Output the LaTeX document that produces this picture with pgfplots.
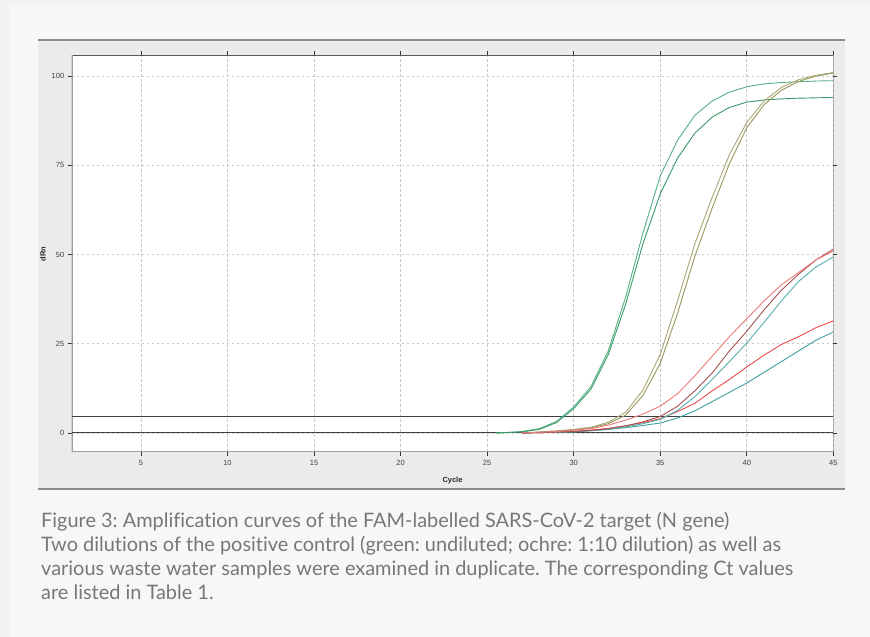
\documentclass[border=0pt]{standalone}
\usepackage{pgfplots}
\pgfplotsset{compat=1.18}
\usepackage{fontspec}
\setmainfont{Liberation Sans}
\newfontfamily\capfont[Ligatures=NoCommon]{Lato}

\definecolor{outerbg}{HTML}{F2F2F2}
\definecolor{innerbg}{HTML}{F7F7F7}
\definecolor{panelbg}{HTML}{EBEBEA}
\definecolor{panelline}{HTML}{8C8C8C}
\definecolor{gridc}{HTML}{C8C8C8}
\definecolor{capgray}{HTML}{777777}
\definecolor{greenA}{HTML}{55B084}
\definecolor{greenB}{HTML}{3A9968}
\definecolor{ochreA}{HTML}{A9A874}
\definecolor{ochreB}{HTML}{9A985C}
\definecolor{redlight}{HTML}{F07A7A}
\definecolor{reddark}{HTML}{A35252}
\definecolor{redmid}{HTML}{EE4848}
\definecolor{tealA}{HTML}{55AFAF}
\definecolor{tealB}{HTML}{3F9E9E}

\begin{document}
\frenchspacing
\begin{tikzpicture}[x=1bp,y=1bp]
% backgrounds
\fill[outerbg] (0,0) rectangle (870,637);
\fill[innerbg] (9,0) rectangle (870,632);
\fill[panelbg] (38,148) rectangle (845,597);
\draw[panelline, line width=1.2bp] (38,597) -- (845,597);
\draw[panelline, line width=1.2bp] (38,148) -- (845,148);

\begin{axis}[
    at={(71.7bp,185.3bp)}, anchor=south west,
    scale only axis,
    width=761.6bp, height=396.7bp,
    xmin=1, xmax=45, ymin=-5.24, ymax=105.9,
    xtick={5,10,...,45}, ytick={0,25,50,75,100},
    axis background/.style={fill=white},
    axis line style={draw=none},
    grid=major,
    major grid style={gridc, dash pattern=on 2.5bp off 2.5bp, line width=0.6bp},
    tick align=outside,
    major tick length=4bp,
    tick style={black!80, line width=0.8bp},
    ticklabel style={font=\fontsize{7.5}{8}\selectfont, text=black!75},
    /pgf/number format/assume math mode=true,
    xticklabel style={yshift=-1bp},
    clip=true,
]
% axis frame
\draw[black!65, line width=0.9bp] (rel axis cs:0,1) -- (rel axis cs:1,1) -- (rel axis cs:1,0);
\draw[black!38, line width=1.8bp] (rel axis cs:0,1) -- (rel axis cs:0,0) -- (rel axis cs:1,0);

% baseline and threshold
\addplot[black!75, line width=1bp] coordinates {(1,0) (45,0)};
\addplot[black!75, line width=1bp] coordinates {(1,4.5) (45,4.5)};

% positive control, undiluted (green)
\addplot[greenA, line width=0.9bp] coordinates {
(25.5,0) (26,0.1) (27,0.4) (28,1.2) (29,3.2) (30,7.3) (31,13) (32,23) (33,38)
(34,56) (35,72) (36,82) (37,89) (38,93) (39,95.5) (40,97) (41,97.8) (42,98.2)
(43,98.4) (44,98.6) (45,98.7)};
\addplot[greenB, line width=0.9bp] coordinates {
(25.5,0) (26,0.1) (27,0.3) (28,1.0) (29,2.9) (30,6.8) (31,12.3) (32,22) (33,36)
(34,53) (35,67) (36,77) (37,84) (38,88.5) (39,91.2) (40,92.7) (41,93.3) (42,93.6)
(43,93.8) (44,93.9) (45,94)};

% positive control, 1:10 (ochre)
\addplot[ochreA, line width=0.9bp] coordinates {
(27,0) (28,0.3) (29,0.6) (30,1.0) (31,1.6) (32,3.0) (33,5.8) (34,12) (35,22)
(36,37) (37,53) (38,66) (39,78) (40,87) (41,93) (42,96.8) (43,99) (44,100.2) (45,101)};
\addplot[ochreB, line width=0.9bp] coordinates {
(27,0) (28,0.2) (29,0.5) (30,0.9) (31,1.4) (32,2.6) (33,5.0) (34,10.5) (35,19.5)
(36,33.5) (37,49.5) (38,63) (39,75.5) (40,85.5) (41,92) (42,96) (43,98.5) (44,100) (45,100.8)};

% waste water samples
\addplot[tealB, line width=0.9bp] coordinates {
(27,0) (28,0.1) (30,0.4) (31,0.7) (32,1.0) (33,1.5) (34,2.1) (35,2.8) (36,4.2)
(37,6.2) (38,8.8) (39,11.4) (40,14) (41,17) (42,20) (43,23) (44,26) (45,28.3)};
\addplot[redmid, line width=0.9bp] coordinates {
(27,0) (28,0.1) (30,0.5) (31,0.8) (32,1.3) (33,2.0) (34,2.9) (35,4.0) (36,6.0)
(37,8.3) (38,11.8) (39,15) (40,18.5) (41,21.8) (42,24.8) (43,27) (44,29.5) (45,31.4)};
\addplot[tealA, line width=0.9bp] coordinates {
(27,0) (28,0.1) (30,0.3) (31,0.6) (32,1.0) (33,1.7) (34,2.6) (35,3.8) (36,6.3)
(37,10.2) (38,15) (39,20) (40,25.2) (41,31) (42,37) (43,42.5) (44,46.5) (45,49.3)};
\addplot[reddark, line width=0.9bp] coordinates {
(27,0) (28,0.1) (29,0.2) (30,0.4) (31,0.7) (32,1.2) (33,2.0) (34,3.1) (35,4.6)
(36,7.5) (37,11.8) (38,16.8) (39,23) (40,28.5) (41,34.5) (42,40) (43,44.5) (44,48.5) (45,51.5)};
\addplot[redlight, line width=0.9bp] coordinates {
(27,0) (28,0.2) (29,0.4) (30,0.8) (31,1.2) (32,2.2) (33,3.6) (34,5.3) (35,7.5)
(36,11) (37,16) (38,21.5) (39,27) (40,32) (41,37) (42,41.5) (43,45) (44,48.5) (45,51)};
\end{axis}

% axis titles
\node[font=\bfseries\fontsize{7.5}{8}\selectfont, text=black!85] at (452.5,156) {Cycle};
\node[font=\bfseries\fontsize{7.5}{8}\selectfont, text=black!85, rotate=90] at (43,383) {dRn};

% caption
\node[anchor=north west, align=left, inner sep=0pt, text=capgray,
      font=\capfont\fontsize{20}{24}\selectfont] at (41,125) {%
Figure 3: Amplification curves of the FAM-labelled SARS-CoV-2 target (N gene)\\
Two dilutions of the positive control (green: undiluted; ochre: 1:10 dilution) as well as\\
various waste water samples were examined in duplicate. The corresponding Ct values\\
are listed in Table 1.};
\end{tikzpicture}
\end{document}
